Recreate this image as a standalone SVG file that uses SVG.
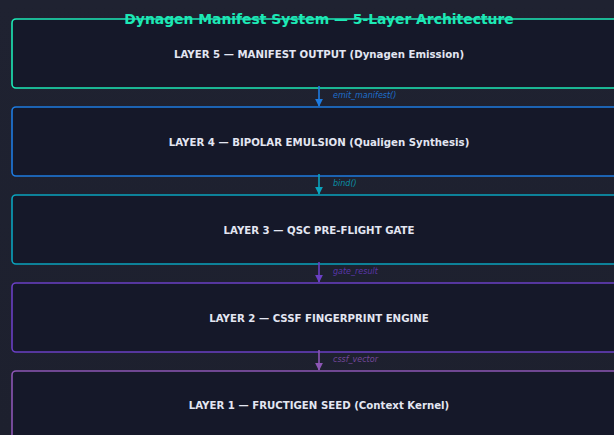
<svg xmlns="http://www.w3.org/2000/svg" width="614" height="435" viewBox="0 0 614 435">
  <defs>
    <linearGradient id="bg" x1="0" y1="0" x2="0" y2="1">
      <stop offset="0" stop-color="#1f2231"/>
      <stop offset="1" stop-color="#1d202e"/>
    </linearGradient>
    <marker id="ah-l4" viewBox="0 0 10 10" refX="9" refY="5" markerWidth="5" markerHeight="5" orient="auto">
      <path d="M0,0 L10,5 L0,10 z" fill="#1e7be0"/>
    </marker>
    <marker id="ah-l3" viewBox="0 0 10 10" refX="9" refY="5" markerWidth="5" markerHeight="5" orient="auto">
      <path d="M0,0 L10,5 L0,10 z" fill="#0aa3bd"/>
    </marker>
    <marker id="ah-l2" viewBox="0 0 10 10" refX="9" refY="5" markerWidth="5" markerHeight="5" orient="auto">
      <path d="M0,0 L10,5 L0,10 z" fill="#6a3fc4"/>
    </marker>
    <marker id="ah-l1" viewBox="0 0 10 10" refX="9" refY="5" markerWidth="5" markerHeight="5" orient="auto">
      <path d="M0,0 L10,5 L0,10 z" fill="#8c56b4"/>
    </marker>
  </defs>
  <style>
    .layer { fill: #151829; stroke-width: 1.6; }
    .label { font-family: "DejaVu Sans", sans-serif; font-weight: bold; font-size: 10.2px; fill: #e3e6f2; text-anchor: middle; }
    .title { font-family: "DejaVu Sans", sans-serif; font-weight: bold; font-size: 13.9px; fill: #1de9b6; text-anchor: middle; }
    .link { stroke-width: 1.6; fill: none; }
    .call { font-family: "DejaVu Sans", sans-serif; font-style: italic; font-size: 8px; }
  </style>

  <rect width="614" height="435" fill="url(#bg)"/>

  <g id="layer5">
    <rect class="layer" x="12" y="19" width="614" height="69" rx="4" stroke="#1de9b6"/>
    <text class="label" x="319" y="57.5">LAYER 5 — MANIFEST OUTPUT (Dynagen Emission)</text>
  </g>
  <g id="layer4">
    <rect class="layer" x="12" y="107" width="614" height="69" rx="4" stroke="#1e7be0"/>
    <text class="label" x="319" y="145.5">LAYER 4 — BIPOLAR EMULSION (Qualigen Synthesis)</text>
  </g>
  <g id="layer3">
    <rect class="layer" x="12" y="195" width="614" height="69" rx="4" stroke="#0aa3bd"/>
    <text class="label" x="319" y="233.5">LAYER 3 — QSC PRE-FLIGHT GATE</text>
  </g>
  <g id="layer2">
    <rect class="layer" x="12" y="283" width="614" height="69" rx="4" stroke="#6a3fc4"/>
    <text class="label" x="319" y="321.5">LAYER 2 — CSSF FINGERPRINT ENGINE</text>
  </g>
  <g id="layer1">
    <rect class="layer" x="12" y="371" width="614" height="69" rx="4" stroke="#8c56b4"/>
    <text class="label" x="319" y="408.5">LAYER 1 — FRUCTIGEN SEED (Context Kernel)</text>
  </g>

  <g id="connectors">
    <line class="link" x1="319" y1="86" x2="319" y2="106" stroke="#1e7be0" marker-end="url(#ah-l4)"/>
    <text class="call" x="333" y="98" fill="#1e6fcc">emit_manifest()</text>
    <line class="link" x1="319" y1="174" x2="319" y2="194" stroke="#0aa3bd" marker-end="url(#ah-l3)"/>
    <text class="call" x="333" y="186" fill="#0a8fa6">bind()</text>
    <line class="link" x1="319" y1="262" x2="319" y2="282" stroke="#6a3fc4" marker-end="url(#ah-l2)"/>
    <text class="call" x="333" y="274" fill="#5a36a8">gate_result</text>
    <line class="link" x1="319" y1="350" x2="319" y2="370" stroke="#8c56b4" marker-end="url(#ah-l1)"/>
    <text class="call" x="333" y="362" fill="#74479a">cssf_vector</text>
  </g>

  <text class="title" x="319" y="23.5">Dynagen Manifest System — 5-Layer Architecture</text>
</svg>
